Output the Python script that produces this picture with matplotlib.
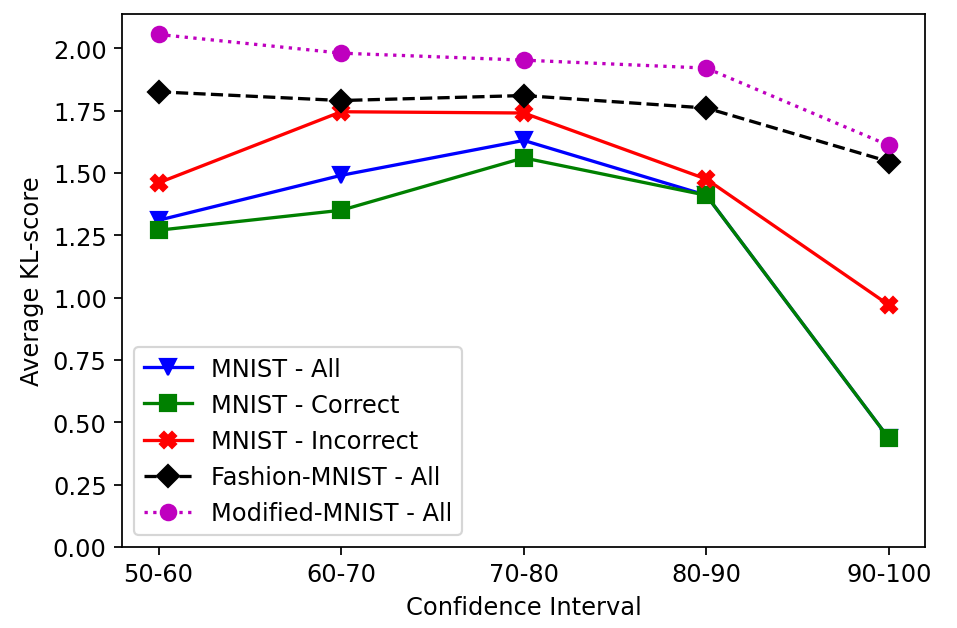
import numpy as np
import matplotlib
matplotlib.use('Agg')
from matplotlib import pyplot as plt

plt.rcParams['font.size'] = 11
plt.rcParams['lines.markersize'] = 7

# Confidence intervals on the x axis
intervals = ['50-60', '60-70', '70-80', '80-90', '90-100']

# Average KL-score per interval
mnist_all = [1.31, 1.49, 1.63, 1.41, 0.435]
mnist_correct = [1.27, 1.35, 1.56, 1.41, 0.435]
mnist_incorrect = [1.46, 1.745, 1.74, 1.475, 0.97]
fashion_all = [1.825, 1.79, 1.81, 1.76, 1.545]
modified_all = [2.055, 1.98, 1.952, 1.92, 1.61]

fig = plt.figure(figsize=(6.06, 3.98), dpi=158)
ax = fig.add_axes([0.1275, 0.129, 0.839, 0.847])

x = np.arange(len(intervals))
ax.plot(x, mnist_all, 'b-v', label='MNIST - All')
ax.plot(x, mnist_correct, 'g-s', label='MNIST - Correct')
ax.plot(x, mnist_incorrect, 'r-X', label='MNIST - Incorrect')
ax.plot(x, fashion_all, 'k--D', label='Fashion-MNIST - All')
ax.plot(x, modified_all, 'm:o', label='Modified-MNIST - All')

ax.set_xticks(x)
ax.set_xticklabels(intervals)
ax.set_ylim(bottom=0)
ax.set_xlabel('Confidence Interval')
ax.set_ylabel('Average KL-score')
ax.legend(loc='lower left')

fig.savefig('out.png', dpi=158)
